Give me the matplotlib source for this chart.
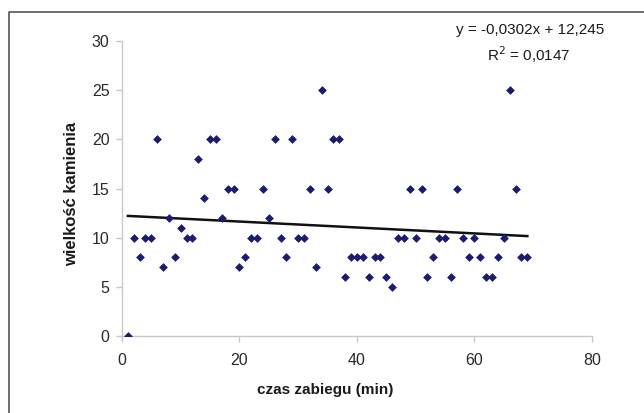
import numpy as np
import matplotlib.pyplot as plt
from matplotlib.lines import Line2D

plt.rcParams['font.family'] = ['Liberation Sans', 'DejaVu Sans']

# czas zabiegu (min) / wielkość kamienia
czas = list(range(1, 70))
wielkosc = [0, 10, 8, 10, 10, 20, 7, 12, 8, 11,
            10, 10, 18, 14, 20, 20, 12, 15, 15, 7,
            8, 10, 10, 15, 12, 20, 10, 8, 20, 10,
            10, 15, 7, 25, 15, 20, 20, 6, 8, 8,
            8, 6, 8, 8, 6, 5, 10, 10, 15, 10,
            15, 6, 8, 10, 10, 6, 15, 10, 8, 10,
            8, 6, 6, 8, 10, 25, 15, 8, 8]

slope = -0.0302
intercept = 12.245
r2 = 0.0147

xticks = [0, 20, 40, 60, 80]
yticks = [0, 5, 10, 15, 20, 25, 30]

fig = plt.figure(figsize=(6.44, 4.13), dpi=100)
ax = fig.add_axes([0.1894, 0.1864, 0.7298, 0.7143])

ax.scatter(czas, wielkosc, marker='D', s=20, color='#1c1c6e', zorder=3, linewidths=0)

x_line = np.array([czas[0], czas[-1]])
ax.plot(x_line, slope * x_line + intercept, color='#111111', lw=1.8, zorder=2)

ax.set_xlim(0, 80)
ax.set_ylim(0, 30)
ax.set_xticks(xticks)
ax.set_yticks(yticks)

for side in ['top', 'right']:
    ax.spines[side].set_visible(False)
for side in ['left', 'bottom']:
    ax.spines[side].set_color('#c8c8c8')
    ax.spines[side].set_linewidth(1.0)
ax.tick_params(direction='out', length=4, width=1, color='#c8c8c8',
               labelsize=11.5, labelcolor='#2a2a2a')
ax.tick_params(axis='x', pad=8)
ax.tick_params(axis='y', pad=5)

fig.text(72 / 644, 1 - 194 / 413, 'wielkość kamienia', ha='center', va='center', rotation=90,
         fontsize=12, fontweight='bold', color='#1a1a1a')
fig.text(325 / 644, 1 - 390 / 413, 'czas zabiegu (min)', ha='center', va='center',
         fontsize=11, fontweight='bold', color='#1a1a1a')

fig.text(530 / 644, 1 - 30 / 413, 'y = -0,0302x + 12,245', ha='center', va='center',
         fontsize=11, color='#1a1a1a')
fig.text(529 / 644, 1 - 55 / 413, 'R$^2$ = 0,0147', ha='center', va='center',
         fontsize=11, color='#1a1a1a')

# ramka wykresu (obcięta z prawej i od dołu)
fig.add_artist(Line2D([9 / 644, 9 / 644, 1.0], [0.0, 1 - 12 / 413, 1 - 12 / 413],
                      transform=fig.transFigure, color='#555555', lw=1.2))

fig.savefig('out.png', dpi=100)
